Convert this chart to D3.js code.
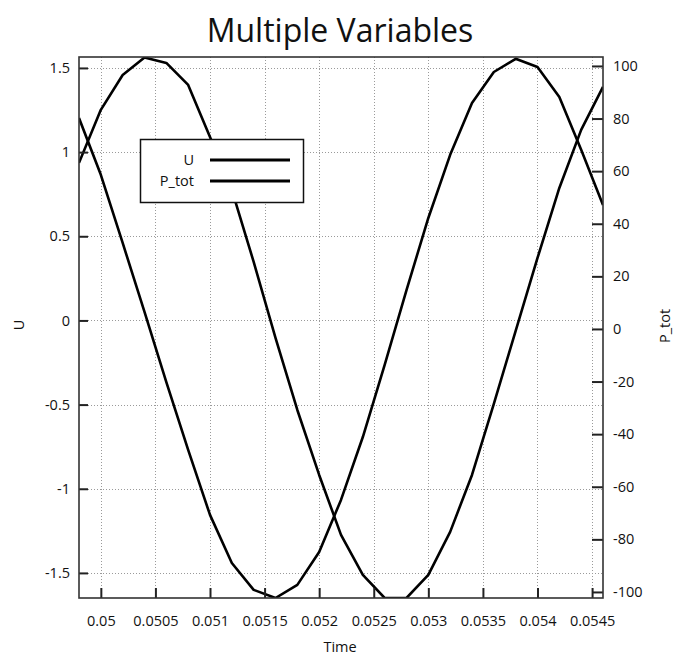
<!DOCTYPE html>
<html>
<head>
<meta charset="utf-8">
<script src="https://cdn.jsdelivr.net/npm/d3@7/dist/d3.min.js"></script>
<style>
  html, body { margin: 0; padding: 0; background: #fff; }
  svg { display: block; }
  text { font-family: "Open Sans", "Noto Sans", sans-serif; fill: #111; }
</style>
</head>
<body>
<svg id="chart" width="675" height="657"></svg>
<script>
// Sample times (s), one every 0.2 ms
const time = [0.0498, 0.0500, 0.0502, 0.0504, 0.0506, 0.0508, 0.0510, 0.0512, 0.0514,
              0.0516, 0.0518, 0.0520, 0.0522, 0.0524, 0.0526, 0.0528, 0.0530, 0.0532,
              0.0534, 0.0536, 0.0538, 0.0540, 0.0542, 0.0544, 0.0546];

// Left-axis variable
const U = [0.936, 1.251, 1.458, 1.562, 1.530, 1.399, 1.090, 0.775, 0.348,
           -0.104, -0.532, -0.918, -1.274, -1.512, -1.649, -1.649, -1.512, -1.256,
           -0.918, -0.496, -0.062, 0.371, 0.787, 1.132, 1.387];

// Right-axis variable
const P_tot = [80.2, 58.6, 32.7, 6.5, -20.2, -46.0, -70.7, -89.0, -99.2,
               -102.3, -97.3, -84.8, -65.0, -41.1, -13.7, 14.8, 42.2, 66.2,
               85.9, 97.7, 102.7, 99.6, 88.2, 68.1, 47.1];

const seriesNames = ["U", "P_tot"];

// Axis ticks
const xTicks = [0.05, 0.0505, 0.051, 0.0515, 0.052, 0.0525, 0.053, 0.0535, 0.054, 0.0545];
const xTickLabels = ["0.05", "0.0505", "0.051", "0.0515", "0.052", "0.0525", "0.053", "0.0535", "0.054", "0.0545"];
const uTicks = [-1.5, -1, -0.5, 0, 0.5, 1, 1.5];
const uTickLabels = ["-1.5", "-1", "-0.5", "0", "0.5", "1", "1.5"];
const pTicks = [-100, -80, -60, -40, -20, 0, 20, 40, 60, 80, 100];
const pTickLabels = ["-100", "-80", "-60", "-40", "-20", "0", "20", "40", "60", "80", "100"];

// Axis ranges
const xDomain = [0.0498, 0.0546];
const uDomain = [-1.649, 1.565];
const pDomain = [-102.3, 103.4];

const plot = { left: 79, right: 603, top: 57, bottom: 598 };
const svg = d3.select("#chart");

const x = d3.scaleLinear().domain(xDomain).range([plot.left, plot.right]);
const yU = d3.scaleLinear().domain(uDomain).range([plot.bottom, plot.top]);
const yP = d3.scaleLinear().domain(pDomain).range([plot.bottom, plot.top]);

const fontSize = 14.5;

// Title
svg.append("text")
  .attr("x", 340).attr("y", 42)
  .attr("text-anchor", "middle")
  .style("font-size", "32px")
  .text("Multiple Variables");

// Grid (dotted)
const grid = svg.append("g").attr("stroke", "#9a9a9a").attr("stroke-width", 1)
  .attr("stroke-dasharray", "1,2");
grid.selectAll("line.v").data(xTicks).join("line")
  .attr("x1", d => Math.round(x(d)) + 0.5).attr("x2", d => Math.round(x(d)) + 0.5)
  .attr("y1", plot.top).attr("y2", plot.bottom);
grid.selectAll("line.h").data(uTicks).join("line")
  .attr("y1", d => Math.round(yU(d)) + 0.5).attr("y2", d => Math.round(yU(d)) + 0.5)
  .attr("x1", plot.left).attr("x2", plot.right);

// Curves
svg.append("clipPath").attr("id", "plotClip").append("rect")
  .attr("x", plot.left).attr("y", plot.top)
  .attr("width", plot.right - plot.left).attr("height", plot.bottom - plot.top);

const lineU = d3.line().x((d, i) => x(time[i])).y(d => yU(d));
const lineP = d3.line().x((d, i) => x(time[i])).y(d => yP(d));
const curves = svg.append("g").attr("clip-path", "url(#plotClip)")
  .attr("fill", "none").attr("stroke", "#000").attr("stroke-width", 2.6)
  .attr("stroke-linejoin", "round");
curves.append("path").attr("d", lineU(U));
curves.append("path").attr("d", lineP(P_tot));

// Axes with inward ticks
function styleAxis(g) {
  g.select(".domain").remove();
  g.selectAll(".tick line").attr("stroke", "#222").attr("stroke-width", 2);
  g.selectAll(".tick text").style("font-size", fontSize + "px").attr("fill", "#111");
}

svg.append("g")
  .attr("transform", `translate(0,${plot.bottom})`)
  .call(d3.axisBottom(x).tickValues(xTicks)
    .tickFormat((d, i) => xTickLabels[i]).tickSizeInner(-10).tickSizeOuter(0).tickPadding(18))
  .call(styleAxis);

svg.append("g")
  .attr("transform", `translate(${plot.left},0)`)
  .call(d3.axisLeft(yU).tickValues(uTicks)
    .tickFormat((d, i) => uTickLabels[i]).tickSizeInner(-9).tickSizeOuter(0).tickPadding(9))
  .call(styleAxis);

svg.append("g")
  .attr("transform", `translate(${plot.right},0)`)
  .call(d3.axisRight(yP).tickValues(pTicks)
    .tickFormat((d, i) => pTickLabels[i]).tickSizeInner(-11).tickSizeOuter(0).tickPadding(10))
  .call(styleAxis);

// Frame
svg.append("rect")
  .attr("x", plot.left).attr("y", plot.top)
  .attr("width", plot.right - plot.left).attr("height", plot.bottom - plot.top)
  .attr("fill", "none").attr("stroke", "#333").attr("stroke-width", 1.6);

// Axis titles
svg.append("text").attr("x", 340).attr("y", 652)
  .attr("text-anchor", "middle").style("font-size", fontSize + "px").text("Time");
svg.append("text")
  .attr("transform", "translate(24,325) rotate(-90)")
  .attr("text-anchor", "middle").style("font-size", fontSize + "px").text("U");
svg.append("text")
  .attr("transform", "translate(670,326) rotate(-90)")
  .attr("text-anchor", "middle").style("font-size", fontSize + "px").text("P_tot");

// Legend
const legend = svg.append("g");
legend.append("rect")
  .attr("x", 140.5).attr("y", 139.5).attr("width", 163).attr("height", 63)
  .attr("fill", "#fff").attr("stroke", "#111").attr("stroke-width", 1.5);
const legendRows = [160, 181];
seriesNames.forEach((name, i) => {
  legend.append("text")
    .attr("x", 194).attr("y", legendRows[i]).attr("dy", "0.36em")
    .attr("text-anchor", "end").style("font-size", fontSize + "px").text(name);
  legend.append("line")
    .attr("x1", 210).attr("x2", 290)
    .attr("y1", legendRows[i]).attr("y2", legendRows[i])
    .attr("stroke", "#000").attr("stroke-width", 3);
});
</script>
</body>
</html>
